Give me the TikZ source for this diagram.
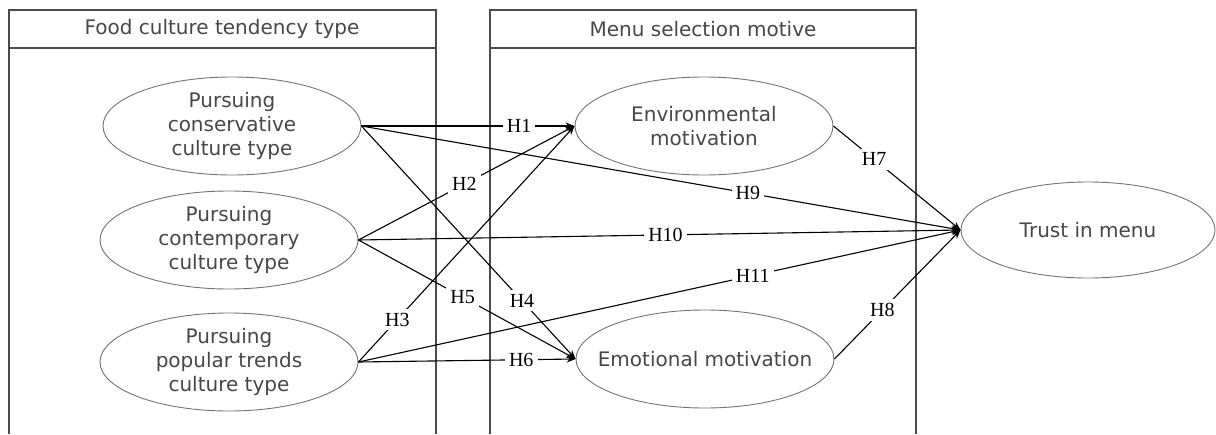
\documentclass[tikz,border=0pt]{standalone}
\usepackage{fontspec}
\setmainfont{DejaVu Sans}
\newfontfamily\hypfont{Liberation Serif}
\usepackage{tikz}
\usetikzlibrary{arrows, arrows.meta, shapes.geometric, positioning}

\tikzset{
  var/.style={ellipse, draw=black!55, line width=0.9pt, minimum width=258pt,
    minimum height=98pt, inner sep=0pt, align=center, text=black!72,
    font=\fontsize{20}{24}\selectfont},
  hyp/.style={fill=white, inner sep=4pt, text=black,
    font=\hypfont\fontsize{20}{20}\selectfont},
  groupbox/.style={-, draw=black!70, line width=1.6pt},
  grouptitle/.style={text=black!72, font=\fontsize{20}{24}\selectfont}
}

\begin{document}
\begin{tikzpicture}[x=1pt,y=-1pt,->,>={Stealth[length=9pt,width=7pt]},line width=1.1pt]
  \useasboundingbox (0,0) rectangle (1216,434);

  % group frames
  \draw[groupbox] (9,434) |- (436,10) -- (436,434);
  \draw[groupbox] (9,48) -- (436,48);
  \draw[groupbox] (490,434) |- (916,10) -- (916,434);
  \draw[groupbox] (490,48) -- (916,48);
  \node[grouptitle] (foodtitle) at (222,29) {Food culture tendency type};
  \node[grouptitle] (menutitle) at (703,29) {Menu selection motive};

  \node[var] (cons)  at (232,126) {Pursuing\\conservative\\culture type};
  \node[var] (cont)  at (229,240) {Pursuing\\contemporary\\culture type};
  \node[var] (pop)   at (229,362) {Pursuing\\popular trends\\culture type};
  \node[var] (env)   at (704,126) {Environmental\\motivation};
  \node[var, inner xsep=-20pt] (emo) at (705,359) {Emotional motivation};
  \node[var, minimum width=254pt, minimum height=96pt] (trust) at (1088,230) {Trust in menu};

  \path[->]
        (cons.east) edge node[hyp, pos=0.74] {H1} (env.west)
                    edge node[hyp, pos=0.75] {H4} (emo.west)
                    edge node[hyp, pos=0.645] {H9} (trust.west)
        (cont.east) edge node[hyp, pos=0.49] {H2} (env.west)
                    edge node[hyp, pos=0.48] {H5} (emo.west)
                    edge node[hyp, pos=0.51] {H10} (trust.west)
        (pop.east)  edge node[hyp, pos=0.18] {H3} (env.west)
                    edge node[hyp, pos=0.75] {H6} (emo.west)
                    edge node[hyp, pos=0.655] {H11} (trust.west)
        (env.east)  edge node[hyp, pos=0.32] {H7} (trust.west)
        (emo.east)  edge node[hyp, pos=0.38] {H8} (trust.west);
\end{tikzpicture}
\end{document}
